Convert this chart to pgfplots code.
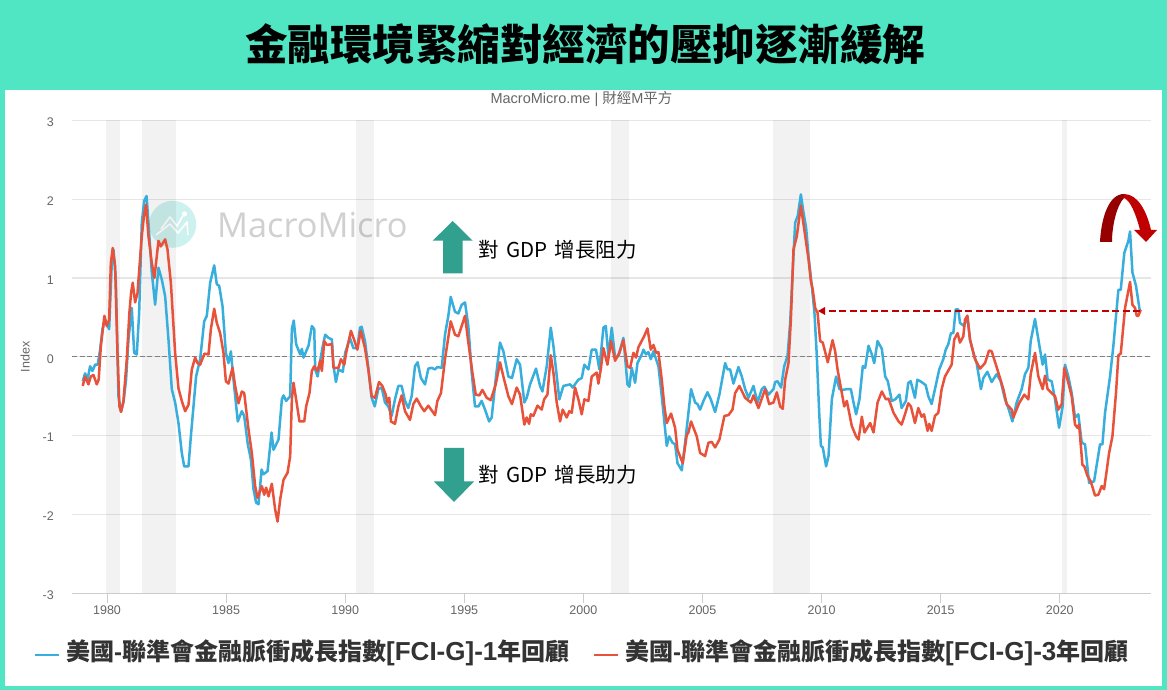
\documentclass[border=0pt]{standalone}
\usepackage{fontspec}
\usepackage{pgfplots}
\pgfplotsset{compat=1.18}
\usetikzlibrary{arrows.meta}
\setmainfont{Liberation Sans}
\newfontfamily\cjk{Noto Sans CJK TC}
\newfontfamily\wm{Open Sans}
\definecolor{frame}{HTML}{50E5C3}
\definecolor{tealarrow}{HTML}{31A08F}
\definecolor{blueS}{HTML}{38AEDD}
\definecolor{redS}{HTML}{E8523A}
\definecolor{darkred}{HTML}{960000}
\definecolor{midred}{HTML}{C00000}
\definecolor{gridc}{HTML}{E6E6E6}
\definecolor{ticktxt}{HTML}{666666}
\begin{document}
\begin{tikzpicture}[x=1pt,y=1pt]
\useasboundingbox (0pt,0pt) rectangle (1167pt,690pt);
\fill[frame] (0pt,0pt) rectangle (1167pt,690pt);
\begin{scope}[x=1pt,y=-1pt,shift={(0pt,690pt)}]
\fill[white] (5,90) rectangle (1162,686);
% watermark
\fill[color={rgb,255:red,205;green,241;blue,238}] (172.7,224.3) circle (23.5);
\draw[white,line width=1.6pt,line join=round] (161,229) -- (170,217) -- (177,226) -- (184,214);
\draw[white,line width=1.6pt,line join=round] (156,235) -- (170,224) -- (178,233) -- (187,222) -- (188,235);
\fill[white] (184.5,214) circle (2.6);
\node[anchor=west,inner sep=0pt,text={rgb,255:red,208;green,208;blue,208}] at (217,225) {\wm\fontsize{34.3}{38}\selectfont MacroMicro};
\end{scope}
\begin{axis}[
  at={(72pt,96.7pt)},anchor=south west,
  scale only axis,width=1079pt,height=473pt,
  xmin=1978.53,xmax=2023.83,ymin=-3,ymax=3,
  axis x line=bottom,axis y line=left,
  axis line style={-},
  x axis line style={draw=black!20,line width=1.2pt},
  y axis line style={draw=none},
  xtick={1980,1985,...,2020},ytick={-3,-2,-1,0,1,2,3},
  ymajorgrids,grid style={gridc,line width=1.2pt},
  tick align=outside,
  major tick length=10pt,
  xtick style={draw=black!20,line width=1pt},
  ytick style={draw=none},
  tick label style={font=\fontsize{12.5}{14}\selectfont,text=ticktxt},
  /pgf/number format/assume math mode=true,
  /pgf/number format/1000 sep={},
  xticklabel style={yshift=-2.5pt,inner sep=0pt,anchor=north},
  yticklabel style={inner sep=0pt,anchor=east,xshift=-8pt,yshift=-2pt},
  ylabel={Index},
  ylabel style={font=\fontsize{12.5}{14}\selectfont,text=ticktxt,at={(axis description cs:-0.0435,0.5)},anchor=center,rotate=0},
  clip=true,
]
\addplot[draw=none,fill=black,fill opacity=0.05] coordinates {(1979.96,-3)(1979.96,3)(1980.55,3)(1980.55,-3)} --cycle;
\addplot[draw=none,fill=black,fill opacity=0.05] coordinates {(1981.46,-3)(1981.46,3)(1982.88,3)(1982.88,-3)} --cycle;
\addplot[draw=none,fill=black,fill opacity=0.05] coordinates {(1990.46,-3)(1990.46,3)(1991.21,3)(1991.21,-3)} --cycle;
\addplot[draw=none,fill=black,fill opacity=0.05] coordinates {(2001.17,-3)(2001.17,3)(2001.92,3)(2001.92,-3)} --cycle;
\addplot[draw=none,fill=black,fill opacity=0.05] coordinates {(2007.96,-3)(2007.96,3)(2009.5,3)(2009.5,-3)} --cycle;
\addplot[draw=none,fill=black,fill opacity=0.05] coordinates {(2020.08,-3)(2020.08,3)(2020.29,3)(2020.29,-3)} --cycle;
\addplot[draw=black!50,line width=0.9pt,dash pattern=on 5pt off 2.5pt,forget plot] coordinates {(1978.53,0)(2023.83,0)};
\addplot[blueS,line width=2.5pt,line join=round] table {
1978.98 -0.31
1979.08 -0.21
1979.18 -0.29
1979.29 -0.12
1979.39 -0.18
1979.50 -0.10
1979.61 -0.10
1979.71 0.09
1979.81 0.35
1979.92 0.47
1980.09 0.35
1980.20 1.19
1980.27 1.36
1980.37 0.98
1980.48 -0.50
1980.59 -0.69
1980.69 -0.58
1980.80 -0.29
1980.90 0.22
1981.04 0.62
1981.14 0.05
1981.25 0.03
1981.35 0.56
1981.46 1.70
1981.56 1.98
1981.66 2.04
1981.74 1.70
1981.88 1.07
1982.02 0.66
1982.16 1.13
1982.30 0.98
1982.44 0.77
1982.58 0.22
1982.72 -0.41
1982.86 -0.58
1983.00 -0.84
1983.14 -1.22
1983.24 -1.39
1983.42 -1.39
1983.52 -1.01
1983.63 -0.63
1983.74 -0.25
1983.91 -0.03
1984.08 0.45
1984.19 0.52
1984.33 0.94
1984.50 1.16
1984.61 0.92
1984.71 0.90
1984.85 0.64
1984.99 0.05
1985.10 -0.08
1985.20 0.07
1985.31 -0.29
1985.49 -0.82
1985.66 -0.69
1985.76 -0.75
1985.91 -1.11
1986.04 -1.30
1986.15 -1.68
1986.26 -1.85
1986.36 -1.87
1986.49 -1.43
1986.57 -1.49
1986.74 -1.45
1986.91 -0.96
1986.99 -1.18
1987.20 -1.05
1987.34 -0.54
1987.41 -0.49
1987.52 -0.56
1987.69 -0.50
1987.76 0.35
1987.84 0.46
1987.94 0.16
1988.11 0.03
1988.18 0.10
1988.25 -0.01
1988.46 0.14
1988.60 0.39
1988.70 0.35
1988.74 -0.16
1988.84 -0.25
1988.95 -0.05
1989.06 0.14
1989.16 0.28
1989.30 0.24
1989.44 0.22
1989.51 -0.12
1989.61 -0.32
1989.72 -0.16
1989.90 -0.19
1990.00 0.05
1990.20 0.24
1990.34 0.11
1990.51 0.11
1990.62 0.37
1990.69 0.38
1990.83 0.20
1990.97 -0.14
1991.11 -0.52
1991.24 -0.63
1991.39 -0.41
1991.53 -0.39
1991.67 -0.58
1991.81 -0.63
1991.95 -0.75
1992.09 -0.54
1992.23 -0.37
1992.37 -0.37
1992.51 -0.56
1992.65 -0.65
1992.79 -0.50
1992.93 -0.12
1993.04 -0.07
1993.18 -0.27
1993.35 -0.35
1993.49 -0.15
1993.63 -0.14
1993.77 -0.16
1993.87 -0.13
1994.05 -0.14
1994.19 0.28
1994.33 0.52
1994.43 0.76
1994.61 0.57
1994.75 0.55
1994.89 0.66
1995.03 0.69
1995.17 0.39
1995.31 -0.20
1995.45 -0.63
1995.59 -0.63
1995.73 -0.56
1995.87 -0.67
1996.04 -0.82
1996.15 -0.77
1996.33 -0.25
1996.50 0.18
1996.64 0.07
1996.85 -0.25
1997.00 -0.27
1997.20 -0.03
1997.34 -0.10
1997.52 -0.58
1997.62 -0.52
1997.76 -0.35
1998.01 -0.15
1998.18 -0.37
1998.28 -0.44
1998.46 -0.12
1998.63 0.37
1998.74 0.14
1998.99 -0.54
1999.16 -0.37
1999.44 -0.35
1999.55 -0.39
1999.79 -0.29
1999.93 -0.27
2000.04 -0.10
2000.21 -0.16
2000.35 0.09
2000.53 0.09
2000.67 -0.16
2000.84 0.37
2000.94 0.39
2001.05 0.01
2001.19 0.37
2001.33 -0.01
2001.47 0.01
2001.68 0.24
2001.85 -0.35
2001.93 -0.38
2002.03 -0.14
2002.17 -0.33
2002.27 -0.08
2002.45 0.03
2002.52 0.09
2002.63 0.03
2002.73 0.06
2002.83 -0.03
2002.94 0.07
2003.15 -0.12
2003.29 -0.50
2003.39 -0.80
2003.50 -1.13
2003.60 -1.01
2003.74 -1.09
2003.85 -1.11
2003.95 -1.35
2004.13 -1.44
2004.27 -1.09
2004.41 -0.71
2004.52 -0.41
2004.69 -0.58
2004.79 -0.60
2004.90 -0.67
2005.04 -0.56
2005.21 -0.45
2005.35 -0.54
2005.53 -0.70
2005.71 -0.48
2005.95 -0.08
2006.05 -0.16
2006.16 -0.16
2006.30 -0.34
2006.51 -0.13
2006.65 -0.25
2006.79 -0.41
2006.93 -0.52
2007.14 -0.37
2007.31 -0.58
2007.49 -0.41
2007.60 -0.38
2007.77 -0.48
2007.98 -0.41
2008.05 -0.32
2008.15 -0.31
2008.30 -0.39
2008.43 -0.12
2008.57 0.01
2008.68 0.43
2008.82 1.28
2008.89 1.70
2009.00 1.79
2009.13 2.06
2009.24 1.83
2009.35 1.64
2009.45 1.28
2009.59 0.90
2009.70 0.56
2009.80 0.01
2009.90 -0.71
2009.97 -1.13
2010.05 -1.15
2010.19 -1.39
2010.29 -1.26
2010.43 -0.54
2010.61 -0.25
2010.75 -0.41
2010.89 -0.42
2011.06 -0.41
2011.23 -0.41
2011.34 -0.58
2011.45 -0.73
2011.59 -0.54
2011.73 -0.12
2011.83 -0.14
2011.97 0.14
2012.11 0.03
2012.21 -0.08
2012.35 0.20
2012.53 0.10
2012.67 -0.25
2012.78 -0.31
2012.95 -0.56
2013.09 -0.54
2013.27 -0.48
2013.36 -0.65
2013.54 -0.56
2013.64 -0.33
2013.74 -0.31
2013.92 -0.52
2014.02 -0.29
2014.20 -0.32
2014.37 -0.36
2014.48 -0.50
2014.62 -0.60
2014.76 -0.41
2014.94 -0.16
2015.11 -0.03
2015.21 0.09
2015.32 0.16
2015.43 0.30
2015.53 0.30
2015.63 0.60
2015.74 0.60
2015.81 0.43
2015.98 0.39
2016.12 0.52
2016.23 0.22
2016.37 0.05
2016.51 -0.08
2016.69 -0.41
2016.79 -0.27
2016.96 -0.19
2017.14 -0.32
2017.35 -0.22
2017.52 -0.31
2017.70 -0.54
2017.84 -0.65
2018.01 -0.82
2018.19 -0.58
2018.40 -0.41
2018.54 -0.22
2018.68 -0.14
2018.78 0.20
2018.96 0.48
2019.10 0.22
2019.28 -0.10
2019.38 0.03
2019.49 -0.29
2019.66 -0.31
2019.80 -0.54
2019.97 -0.90
2020.12 -0.63
2020.22 -0.10
2020.36 -0.25
2020.50 -0.46
2020.64 -0.77
2020.78 -0.73
2020.92 -1.09
2021.06 -1.11
2021.23 -1.60
2021.44 -1.58
2021.69 -1.11
2021.79 -1.11
2021.90 -0.71
2022.11 -0.25
2022.25 0.14
2022.46 0.85
2022.56 0.85
2022.71 1.32
2022.88 1.47
2022.95 1.59
2023.05 1.07
2023.20 0.90
2023.37 0.56
};
\addplot[redS,line width=2.5pt,line join=round] table {
1978.98 -0.37
1979.08 -0.25
1979.22 -0.35
1979.32 -0.25
1979.43 -0.23
1979.57 -0.35
1979.65 -0.29
1979.74 0.13
1979.89 0.52
1979.99 0.39
1980.09 0.47
1980.16 1.19
1980.24 1.38
1980.34 1.15
1980.44 0.05
1980.52 -0.63
1980.59 -0.70
1980.69 -0.56
1980.83 -0.03
1980.94 0.56
1981.01 0.81
1981.08 0.94
1981.18 0.69
1981.28 0.81
1981.46 1.53
1981.56 1.81
1981.64 1.93
1981.74 1.53
1981.88 1.19
1981.99 1.00
1982.16 1.47
1982.26 1.40
1982.44 1.49
1982.54 1.36
1982.68 0.94
1982.86 0.05
1983.00 -0.40
1983.14 -0.56
1983.28 -0.69
1983.42 -0.61
1983.56 -0.16
1983.70 -0.01
1983.80 -0.08
1983.91 -0.10
1984.09 0.04
1984.26 0.03
1984.36 0.35
1984.50 0.61
1984.61 0.43
1984.75 0.30
1984.89 0.05
1984.99 -0.31
1985.10 -0.34
1985.27 -0.14
1985.38 -0.37
1985.52 -0.59
1985.66 -0.44
1985.76 -0.46
1985.94 -0.92
1986.08 -1.22
1986.22 -1.64
1986.32 -1.79
1986.50 -1.64
1986.60 -1.75
1986.68 -1.66
1986.78 -1.77
1986.92 -1.61
1987.06 -1.94
1987.16 -2.09
1987.27 -1.81
1987.41 -1.56
1987.58 -1.47
1987.69 -1.26
1987.76 -0.54
1987.83 -0.33
1987.94 -0.54
1988.08 -0.82
1988.28 -0.82
1988.36 -0.63
1988.50 -0.46
1988.60 -0.18
1988.70 -0.12
1988.84 -0.18
1988.95 -0.05
1989.02 -0.18
1989.12 0.20
1989.23 0.15
1989.44 0.16
1989.51 -0.14
1989.72 -0.14
1989.82 -0.03
1989.96 -0.10
1990.04 0.05
1990.24 0.33
1990.37 0.22
1990.51 0.09
1990.65 0.33
1990.83 0.11
1990.97 -0.16
1991.11 -0.50
1991.25 -0.52
1991.42 -0.32
1991.56 -0.37
1991.70 -0.48
1991.77 -0.58
1991.85 -0.52
1991.92 -0.82
1992.09 -0.85
1992.23 -0.63
1992.37 -0.49
1992.51 -0.69
1992.72 -0.80
1992.86 -0.60
1993.00 -0.53
1993.18 -0.63
1993.32 -0.69
1993.49 -0.62
1993.77 -0.74
1993.87 -0.56
1994.02 -0.46
1994.19 -0.03
1994.43 0.45
1994.61 0.28
1994.75 0.26
1995.03 0.52
1995.17 0.18
1995.34 -0.20
1995.48 -0.48
1995.63 -0.49
1995.76 -0.42
1995.94 -0.52
1996.11 -0.55
1996.32 -0.35
1996.50 -0.07
1996.64 -0.25
1996.85 -0.50
1997.00 -0.60
1997.20 -0.39
1997.34 -0.48
1997.45 -0.71
1997.52 -0.86
1997.62 -0.77
1997.72 -0.85
1997.79 -0.73
1997.90 -0.75
1998.07 -0.62
1998.25 -0.67
1998.35 -0.54
1998.49 -0.48
1998.63 0.02
1998.74 -0.20
1998.88 -0.58
1999.02 -0.82
1999.13 -0.67
1999.30 -0.77
1999.41 -0.69
1999.51 -0.71
1999.65 -0.39
1999.79 -0.54
1999.93 -0.73
2000.04 -0.54
2000.21 -0.56
2000.35 -0.25
2000.56 -0.20
2000.63 -0.34
2000.73 -0.16
2000.84 0.11
2001.01 -0.10
2001.16 0.20
2001.33 -0.05
2001.51 0.05
2001.68 0.21
2001.85 -0.12
2001.96 -0.14
2002.10 0.05
2002.21 -0.01
2002.31 0.12
2002.41 0.18
2002.55 0.26
2002.69 0.36
2002.83 0.09
2002.94 0.15
2003.05 0.05
2003.15 0.06
2003.29 -0.29
2003.40 -0.63
2003.50 -0.84
2003.68 -0.72
2003.85 -0.90
2003.95 -1.18
2004.17 -1.35
2004.34 -0.99
2004.41 -0.96
2004.52 -0.82
2004.76 -1.01
2004.90 -1.22
2005.11 -1.26
2005.25 -1.09
2005.39 -1.08
2005.53 -1.15
2005.71 -1.05
2005.92 -0.75
2006.09 -0.74
2006.26 -0.67
2006.37 -0.46
2006.55 -0.37
2006.79 -0.52
2007.03 -0.58
2007.14 -0.49
2007.35 -0.65
2007.63 -0.41
2007.80 -0.60
2007.98 -0.58
2008.12 -0.45
2008.26 -0.63
2008.37 -0.66
2008.47 -0.29
2008.61 -0.08
2008.71 0.47
2008.82 1.36
2008.96 1.53
2009.13 1.92
2009.27 1.62
2009.45 1.24
2009.55 0.96
2009.63 0.85
2009.73 0.62
2009.83 0.56
2009.94 0.20
2010.05 0.18
2010.26 -0.07
2010.46 0.21
2010.57 0.07
2010.67 -0.16
2010.85 -0.46
2010.95 -0.63
2011.06 -0.56
2011.27 -0.88
2011.45 -1.01
2011.55 -1.05
2011.69 -0.76
2011.80 -0.96
2012.04 -0.84
2012.18 -0.96
2012.35 -0.58
2012.53 -0.44
2012.70 -0.54
2012.81 -0.53
2013.02 -0.71
2013.23 -0.82
2013.36 -0.86
2013.50 -0.73
2013.64 -0.59
2013.75 -0.63
2013.92 -0.84
2014.06 -0.65
2014.20 -0.76
2014.30 -0.73
2014.45 -0.94
2014.52 -0.85
2014.62 -0.94
2014.76 -0.75
2014.90 -0.71
2015.04 -0.41
2015.18 -0.25
2015.46 -0.10
2015.57 0.22
2015.71 0.30
2015.81 0.18
2015.95 0.26
2016.02 0.47
2016.12 0.52
2016.23 0.22
2016.44 -0.03
2016.65 -0.15
2016.86 -0.08
2017.03 0.08
2017.14 0.07
2017.38 -0.16
2017.63 -0.41
2017.77 -0.60
2017.98 -0.67
2018.05 -0.77
2018.29 -0.59
2018.51 -0.48
2018.68 -0.54
2018.78 -0.22
2018.96 0.05
2019.10 -0.25
2019.28 -0.41
2019.38 -0.24
2019.49 -0.41
2019.80 -0.50
2019.94 -0.67
2020.08 -0.60
2020.19 -0.14
2020.36 -0.33
2020.50 -0.50
2020.64 -0.86
2020.74 -0.90
2020.81 -0.86
2020.95 -1.37
2021.03 -1.39
2021.16 -1.51
2021.30 -1.58
2021.48 -1.76
2021.62 -1.75
2021.76 -1.64
2021.86 -1.68
2021.94 -1.51
2022.07 -1.22
2022.21 -1.01
2022.36 -0.46
2022.46 0.02
2022.56 0.04
2022.74 0.62
2022.95 0.95
2023.05 0.66
2023.16 0.62
2023.23 0.52
2023.30 0.52
2023.40 0.60
};
\end{axis}
\begin{scope}[x=1pt,y=-1pt,shift={(0pt,690pt)}]
% title & subtitle
\node[inner sep=0pt] at (585,44.5) {\cjk\bfseries\fontsize{42.5}{46}\selectfont 金融環境緊縮對經濟的壓抑逐漸緩解};
\node[inner sep=0pt,text=ticktxt] at (581.5,99) {\fontsize{14.5}{16}\selectfont MacroMicro.me | {\cjk 財經}M{\cjk 平方}};
% teal arrows
\fill[tealarrow] (452.7,221) -- (472.7,240.7) -- (462.7,240.7) -- (462.7,273.5) -- (443,273.5) -- (443,240.7) -- (432.7,240.7) -- cycle;
\fill[tealarrow] (454,502) -- (474,481.5) -- (464,481.5) -- (464,448) -- (444,448) -- (444,481.5) -- (434,481.5) -- cycle;
\node[anchor=west,inner sep=0pt] at (478,250) {\cjk\fontsize{20.5}{24}\selectfont 對\hspace{7.5pt}GDP\hspace{7.5pt}增長阻力};
\node[anchor=west,inner sep=0pt] at (478,475) {\cjk\fontsize{20.5}{24}\selectfont 對\hspace{7.5pt}GDP\hspace{7.5pt}增長助力};
% dashed arrow
\draw[midred,line width=2pt,dash pattern=on 7pt off 3.5pt] (1140,311) -- (824,311);
\fill[midred] (818,311) -- (825,307) -- (825,315) -- cycle;
% curved arrow
\fill[darkred] (1100,242) .. controls (1101,220) and (1108,194) .. (1124,194) -- (1124,198) .. controls (1117,205) and (1112,225) .. (1112,242) -- cycle;
\fill[midred] (1124,194) .. controls (1138,194) and (1147,212) .. (1151,230) -- (1157,230) -- (1146,242) -- (1134,230) -- (1140,230) .. controls (1136,214) and (1130,200) .. (1124,198) -- cycle;
% legend
\draw[blueS,line width=2.2pt] (35,655) -- (59,655);
\draw[redS,line width=2.2pt] (594,655) -- (618,655);
\node[anchor=west,inner sep=0pt,text=black!80] at (66,653) {\fontsize{24}{28}\selectfont\bfseries{\cjk 美國}-{\cjk 聯準會金融脈衝成長指數}\fontsize{26}{28}\selectfont{}[FCI-G]-1\fontsize{24}{28}\selectfont{\cjk 年回顧}};
\node[anchor=west,inner sep=0pt,text=black!80] at (625,653) {\fontsize{24}{28}\selectfont\bfseries{\cjk 美國}-{\cjk 聯準會金融脈衝成長指數}\fontsize{26}{28}\selectfont{}[FCI-G]-3\fontsize{24}{28}\selectfont{\cjk 年回顧}};
\end{scope}
\end{tikzpicture}
\end{document}
